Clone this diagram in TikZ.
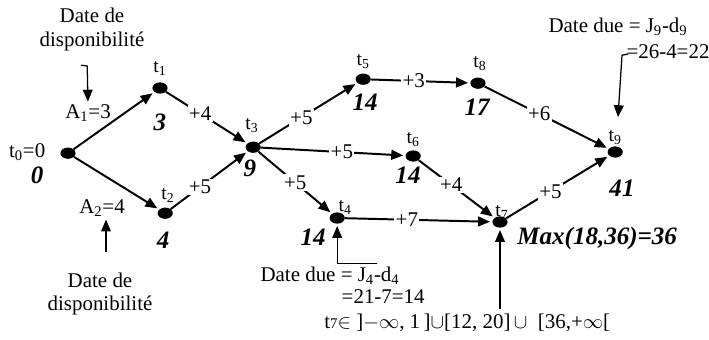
\documentclass[tikz,border=0pt]{standalone}
\usepackage{fontspec}
\setmainfont{Liberation Serif}
\usetikzlibrary{arrows.meta,shapes.geometric}

\begin{document}
\begin{tikzpicture}[
  evt/.style={ellipse,fill=black,inner sep=0pt,minimum width=10.8pt,minimum height=8pt},
  tl/.style={font=\fontsize{14}{16}\selectfont,inner sep=0pt},
  txt/.style={font=\fontsize{14.9}{17}\selectfont,inner sep=0pt},
  num/.style={font=\fontsize{17.8}{20}\selectfont\bfseries\itshape,inner sep=0pt},
  wt/.style={font=\fontsize{14.9}{17}\selectfont,fill=white,inner sep=1pt},
  arc/.style={line width=1.4pt,-{Triangle[length=8.5pt,width=7pt]},shorten >=1.5pt},
  ann/.style={line width=0.9pt,-{Triangle[length=8.5pt,width=7pt]}}
]
\useasboundingbox (0,0) rectangle (17.725,-8.475);
% events
\node[evt] (t0) at (1.70,-3.83) {};
\node[evt] (t1) at (4.00,-2.20) {};
\node[evt] (t2) at (4.13,-5.33) {};
\node[evt] (t3) at (6.33,-3.68) {};
\node[evt] (t5) at (9.08,-1.98) {};
\node[evt] (t8) at (11.95,-2.08) {};
\node[evt] (t6) at (10.33,-3.90) {};
\node[evt] (t4) at (8.43,-5.45) {};
\node[evt] (t7) at (12.50,-5.55) {};
\node[evt] (t9) at (15.38,-3.80) {};
% event names
\node[txt] (n0) at (0.68,-3.80) {t\textsubscript{0}=0};
\node[tl] (n1) at (4.00,-1.70) {t\textsubscript{1}};
\node[tl] (n2) at (4.20,-4.88) {t\textsubscript{2}};
\node[tl] (n3) at (6.30,-3.13) {t\textsubscript{3}};
\node[tl] (n5) at (9.08,-1.55) {t\textsubscript{5}};
\node[tl] (n8) at (12.00,-1.60) {t\textsubscript{8}};
\node[tl] (n6) at (10.33,-3.50) {t\textsubscript{6}};
\node[tl] (n4) at (8.63,-5.18) {t\textsubscript{4}};
\node[tl] (n7) at (12.55,-5.30) {t\textsubscript{7}};
\node[tl] (n9) at (15.38,-3.43) {t\textsubscript{9}};
% earliest dates
\node[num] (d0) at (0.93,-4.38) {0};
\node[num] (d1) at (4.00,-3.05) {3};
\node[num] (d2) at (4.08,-6.00) {4};
\node[num] (d3) at (6.25,-4.20) {9};
\node[num] (d5) at (9.13,-2.55) {14};
\node[num] (d8) at (11.93,-2.68) {17};
\node[num] (d6) at (10.20,-4.38) {14};
\node[num] (d4) at (7.83,-5.93) {14};
\node[num] (d7) at (14.93,-5.95) {Max(18,36)=36};
\node[num] (d9) at (15.55,-4.70) {41};
% arcs
\draw[arc] (t0) -- (t1);
\draw[arc] (t0) -- (t2);
\draw[arc] (t1) -- node[wt,pos=.42] {+4} (t3);
\draw[arc] (t2) -- node[wt,pos=.38] {+5} (t3);
\draw[arc] (t3) -- node[wt,pos=.43] {+5} (t5);
\draw[arc] (t3) -- node[wt,pos=.56] {+5} (t6);
\draw[arc] (t3) -- node[wt,pos=.50] {+5} (t4);
\draw[arc] (t5) -- node[wt,pos=.43] {+3} (t8);
\draw[arc] (t6) -- node[wt,pos=.43] {+4} (t7);
\draw[arc] (t4) -- node[wt,pos=.42] {+7} (t7);
\draw[arc] (t8) -- node[wt,pos=.44] {+6} (t9);
\draw[arc] (t7) -- node[wt,pos=.43] {+5} (t9);
% availability dates
\node[txt] (a1) at (2.20,-2.83) {A\textsubscript{1}=3};
\node[txt] (a2) at (2.55,-5.20) {A\textsubscript{2}=4};
\node[txt,align=center] (dispo1) at (2.30,-0.73) {Date de\\disponibilité};
\node[txt,align=center] (dispo2) at (2.50,-7.35) {Date de\\disponibilité};
\coordinate (c1) at (2.03,-1.63);
\draw[ann,shorten >=2pt] (c1) -- (2.18,-1.65) -- (a1.north);
\coordinate (c2) at (2.65,-6.30);
\draw[ann,shorten >=2pt] (c2) -- (c2 |- a2.south);
% due dates
\node[txt] (due4) at (8.25,-6.90) {Date due = J\textsubscript{4}-d\textsubscript{4}};
\node[txt] (val4) at (9.58,-7.41) {=21-7=14};
\coordinate (c4) at (9.43,-6.58);
\draw[ann,shorten >=1.5pt] (c4) -| (t4.south);
\node[txt] (due9) at (15.45,-0.68) {Date due = J\textsubscript{9}-d\textsubscript{9}};
\node[txt] (val9) at (16.70,-1.30) {=26-4=22};
\coordinate (c9) at (15.70,-1.35);
\coordinate (e9) at (15.45,-2.93);
\draw[ann] (c9) -- (15.55,-1.38) -- (e9);
% window of t7
\node[txt] (win7) at (11.68,-8.07) {t{\fontsize{10.5}{12}\selectfont 7}$\in$ ]$-\infty$, 1\,]$\cup$[12, 20]$\,\cup$~~[36,+$\infty$[};
\coordinate (c7) at (12.50,-7.72);
\draw[ann,shorten >=1.5pt] (c7) -- (t7.south);
\end{tikzpicture}
\end{document}
